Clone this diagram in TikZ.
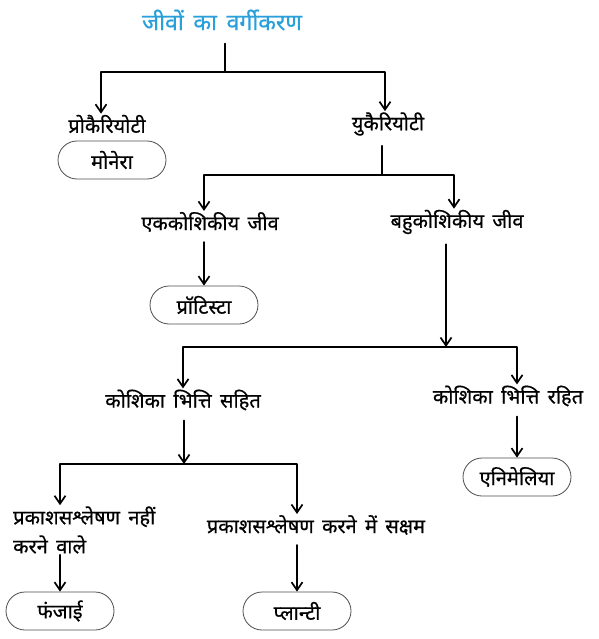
\documentclass[tikz,border=0pt]{standalone}
\usepackage{fontspec}
\newfontfamily\hindi[Script=Devanagari,WordSpace=1.6,FakeBold=0.6]{Noto Sans}
\usetikzlibrary{arrows.meta,shapes.misc}
\definecolor{titleblue}{RGB}{41,160,218}

\begin{document}
\begin{tikzpicture}[x=1pt, y=-1pt, >={Straight Barb[length=8pt,width=11pt]},
    line cap=round, line join=round, font=\hindi\fontsize{20}{29}\selectfont]
  \tikzset{
    taxon/.style={inner sep=1pt},
    group/.style={draw=black!70, line width=0.8pt, rounded rectangle,
      minimum width=108pt, minimum height=38pt, inner sep=0pt},
    edge/.style={line width=1.7pt},
    stem/.style={edge, shorten <=9pt}
  }
  \useasboundingbox (0,0) rectangle (598,639);

  % Nodes
  \node[text=titleblue, font=\hindi\fontsize{23}{26}\selectfont, inner sep=4pt]
    (title) at (222,20) {जीवों का वर्गीकरण};
  \node[taxon] (prok) at (107,124) {प्रोकैरियोटी};
  \node[taxon] (euk) at (388,124) {युकैरियोटी};
  \node[group] (monera) at (112,160) {मोनेरा};
  \node[taxon] (ekko) at (210,222) {एककोशिकीय जीव};
  \node[taxon] (bahu) at (457,222) {बहुकोशिकीय जीव};
  \node[group] (protista) at (204,305) {प्रॉटिस्टा};
  \node[taxon] (sahit) at (183,400) {कोशिका भित्ति सहित};
  \node[taxon] (rahit) at (508,396) {कोशिका भित्ति रहित};
  \node[group] (animalia) at (517,477) {एनिमेलिया};
  \node[taxon, anchor=west, align=left] (nahi) at (12,530)
    {प्रकाशसश्लेषण नहीं\\करने वाले};
  \node[taxon] (saksham) at (316,525) {प्रकाशसश्लेषण करने में सक्षम};
  \node[group] (fungi) at (60,611) {फंजाई};
  \node[group] (plantae) at (297,611) {प्लान्टी};

  % Junctions
  \coordinate (j1) at (225,72);
  \coordinate (j2) at (382,175);
  \coordinate (j3) at (446,347);
  \coordinate (j4) at (184,464);

  % Connectors
  \draw[stem] (title.south -| j1) -- (j1);
  \draw[edge,->] (j1) -| ([xshift=-6pt]prok.north);
  \draw[edge,->] (j1) -| ([xshift=-3pt]euk.north);

  \draw[stem] (euk.south -| j2) -- (j2);
  \draw[edge,->] (j2) -| (ekko.north -| protista.north);
  \draw[edge,->] (j2) -| ([xshift=-3pt]bahu.north);
  \draw[stem,->] (ekko.south -| protista.north) -- (protista.north);

  \draw[stem,->] ([xshift=-11pt]bahu.south) -- (j3);
  \draw[edge,->] (j3) -| (sahit.north);
  \draw[edge,->] (j3) -| (rahit.north -| animalia.north);
  \draw[stem,->] (rahit.south -| animalia.north) -- (animalia.north);

  \draw[stem,->] (sahit.south -| j4) -- (j4);
  \draw[edge,->] (j4) -| (saksham.north -| plantae.north);
  \draw[edge,->] (j4) -| (nahi.north -| fungi.north);
  \draw[edge,->] (nahi.south -| fungi.north) -- (fungi.north);
  \draw[stem,->] (saksham.south -| plantae.north) -- (plantae.north);
\end{tikzpicture}
\end{document}
